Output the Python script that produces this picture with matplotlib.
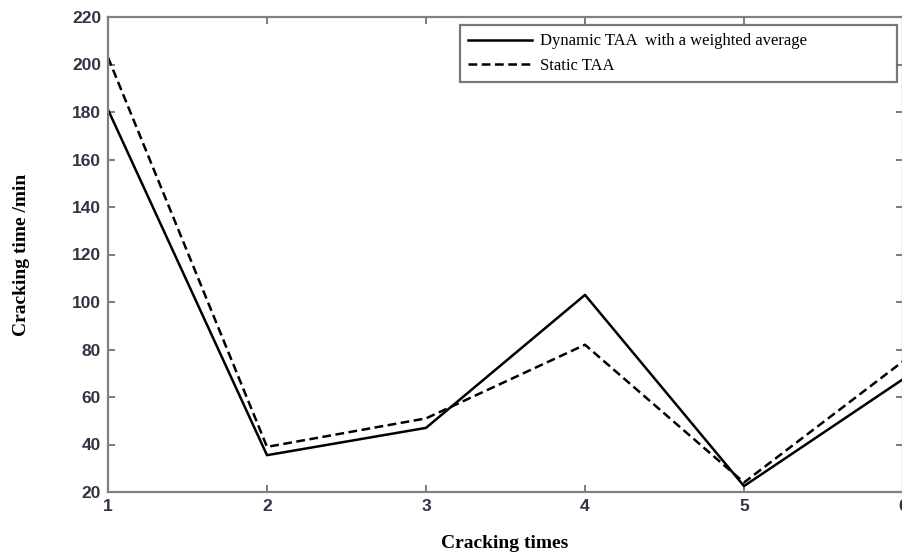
import matplotlib
matplotlib.use("Agg")
import matplotlib.pyplot as plt

x_vals = [1, 2, 3, 4, 5, 6]
dynamic_taa = [181, 35.5, 47, 103, 22.5, 67.5]
static_taa = [203, 39, 51, 82, 24, 75]
x_ticks = [1, 2, 3, 4, 5, 6]
y_ticks = [20, 40, 60, 80, 100, 120, 140, 160, 180, 200, 220]

fig = plt.figure(figsize=(9.03, 5.55), dpi=100)
ax = fig.add_axes([108/903, 1 - 492/555, (903 - 108)/903, (492 - 17)/555])

ax.plot(x_vals, dynamic_taa, color="black", lw=1.8, linestyle="-",
        label="Dynamic TAA  with a weighted average")
ax.plot(x_vals, static_taa, color="black", lw=1.8, linestyle=(0, (3.5, 1.8)),
        label="Static TAA")

ax.set_xlim(1, 6)
ax.set_ylim(20, 220)
ax.set_xticks(x_ticks)
ax.set_yticks(y_ticks)
ax.tick_params(direction="in", top=True, right=True, length=5, width=1.2,
               colors="#666666", labelcolor="#333344", labelsize=12.5)
for lab in ax.get_xticklabels() + ax.get_yticklabels():
    lab.set_family("Liberation Sans")
    lab.set_fontweight("bold")
for s in ax.spines.values():
    s.set_color("#808080")
    s.set_linewidth(1.6)
ax.tick_params(axis="x", pad=5)
ax.tick_params(axis="y", pad=5)

leg = ax.legend(loc="upper left", bbox_to_anchor=(0.4428, 0.867, 0.55, 0.116),
                mode="expand",
                prop={"family": "Liberation Serif", "size": 12},
                frameon=True, fancybox=False, edgecolor="#555555",
                handlelength=3.8, handletextpad=0.5, borderpad=0.5,
                labelspacing=0.5, borderaxespad=0)
leg.get_frame().set_linewidth(1.6)

fig.text(505/903, 1 - 543/555, "Cracking times", ha="center", va="center",
         fontsize=14, fontweight="bold", family="Liberation Serif")
fig.text(22/903, 1 - 255/555, "Cracking time /min", ha="center", va="center",
         rotation=90, fontsize=14, fontweight="bold", family="Liberation Serif")

fig.savefig("out.png", dpi=100)
